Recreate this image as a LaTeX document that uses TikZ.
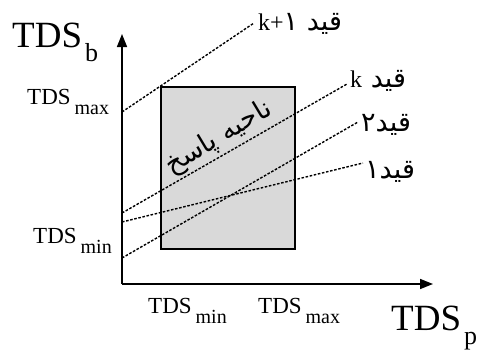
\documentclass[tikz,border=0pt]{standalone}
\usepackage{fontspec}
\setmainfont{Liberation Serif}
\newfontfamily\arabicfont[Script=Arabic]{DejaVu Sans}
\TeXXeTstate=1
\usetikzlibrary{arrows.meta}
\newcommand\tdslab[1]{{\fontsize{23}{23}\selectfont TDS}\hspace{4pt}\raisebox{-10pt}{\fontsize{20}{20}\selectfont #1}}
\newcommand\tdsbig[1]{{\fontsize{37}{37}\selectfont TDS}\hspace{3pt}\raisebox{-14pt}{\fontsize{26}{26}\selectfont #1}}
\newcommand\latk[1]{{\rmfamily\fontsize{24}{24}\selectfont #1}}
\tikzset{
  axis/.style={line width=1.6pt,-{Triangle[length=13pt,width=10pt]}},
  region/.style={draw,line width=2.2pt,fill=black!15},
  constraint/.style={line width=1.4pt,dash pattern=on 2.6pt off 1.6pt},
  lab/.style={inner sep=0pt,anchor=base west},
  plab/.style={inner sep=0pt,anchor=base west,font=\arabicfont\fontsize{27}{27}\selectfont}
}
\begin{document}
\begin{tikzpicture}[x=1pt,y=-1pt]
\useasboundingbox (0,0) rectangle (488,349);
% region
\node[region,minimum width=134pt,minimum height=162pt,inner sep=0pt] (R) at (228,168) {};
% axes
\coordinate (O) at (122,284);
\coordinate (Ytop) at (122,34);
\coordinate (Xtip) at (433,284);
\draw[axis] (O) -- (Ytop);
\draw[axis] (O) -- (Xtip);
% axis labels
\node[lab] (tb) at (12,47) {\tdsbig{b}};
\node[lab] (tp) at (391,330) {\tdsbig{p}};
\node[lab] (ymax) at (27,104) {\tdslab{max}};
\node[lab] (ymin) at (33,243) {\tdslab{min}};
\node[lab] (xmin) at (148,313) {\tdslab{min}};
\node[lab] (xmax) at (258,313) {\tdslab{max}};
% constraint labels
\node[plab] (lk1) at (258,30) {\beginR قید \beginL\latk{k+}۱\endL\endR};
\node[plab] (lk) at (350,87) {\beginR قید \beginL\latk{k}\endL\endR};
\node[plab] (l2) at (361,131) {\beginR قید۲\endR};
\node[plab] (l1) at (365,178) {\beginR قید۱\endR};
% region label
\node[inner sep=0pt,rotate=31,font=\arabicfont\fontsize{27}{27}\selectfont] (rl) at (219,138) {\beginR ناحیه پاسخ\endR};
% constraint lines
\coordinate (sk1) at (122,112);
\coordinate (ek1) at (254,23);
\coordinate (sk) at (122,213);
\coordinate (ek) at (347,84);
\coordinate (s2) at (122,258);
\coordinate (e2) at (358,122);
\coordinate (s1) at (122,222);
\coordinate (e1) at (363,163);
\draw[constraint] (sk1) -- (ek1);
\draw[constraint] (sk) -- (ek);
\draw[constraint] (s2) -- (e2);
\draw[constraint] (s1) -- (e1);
\end{tikzpicture}
\end{document}
